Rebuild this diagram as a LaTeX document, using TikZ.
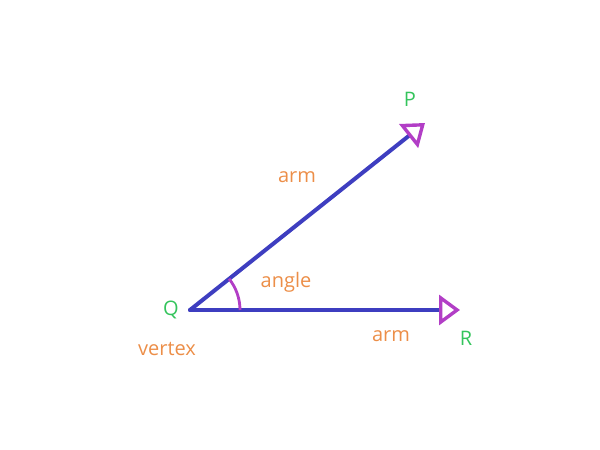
\documentclass[tikz,border=0pt]{standalone}
\usepackage{fontspec}
\setmainfont{Open Sans}
\usetikzlibrary{arrows.meta}
\definecolor{armblue}{RGB}{62,62,192}
\definecolor{tipmag}{RGB}{178,62,198}
\definecolor{lblgreen}{RGB}{52,196,92}
\definecolor{lblorange}{RGB}{236,142,72}
\tikzset{
  arm/.style={draw=armblue, line width=4pt, line cap=round,
    -{Triangle[open, length=21pt, width=30pt, line width=3.4pt, color=tipmag, fill=white]}},
  ptlabel/.style={text=lblgreen, font=\fontsize{20}{24}\selectfont, inner sep=0pt},
  wordlabel/.style={text=lblorange, font=\fontsize{20}{24}\selectfont, inner sep=0pt},
}
\begin{document}
\begin{tikzpicture}[x=1pt,y=1pt]
\useasboundingbox (0,0) rectangle (600,450);
\coordinate (Q) at (190,140);
\coordinate (P) at (425,327);
\coordinate (R) at (460,140);
\draw[arm] (Q) -- (P);
\draw[arm] (Q) -- (R);
\draw[tipmag, line width=2.8pt] ([shift={(0:50)}]Q) arc[start angle=0, end angle=38.6, radius=50];
\node[ptlabel] (lp) at (410,351) {P};
\node[ptlabel] (lq) at (171,140) {Q};
\node[ptlabel] (lr) at (466,112) {R};
\node[wordlabel] (a1) at (297,273) {arm};
\node[wordlabel] (ang) at (286,168) {angle};
\node[wordlabel] (vx) at (167,101) {vertex};
\node[wordlabel] (a2) at (391,114) {arm};
\end{tikzpicture}
\end{document}
